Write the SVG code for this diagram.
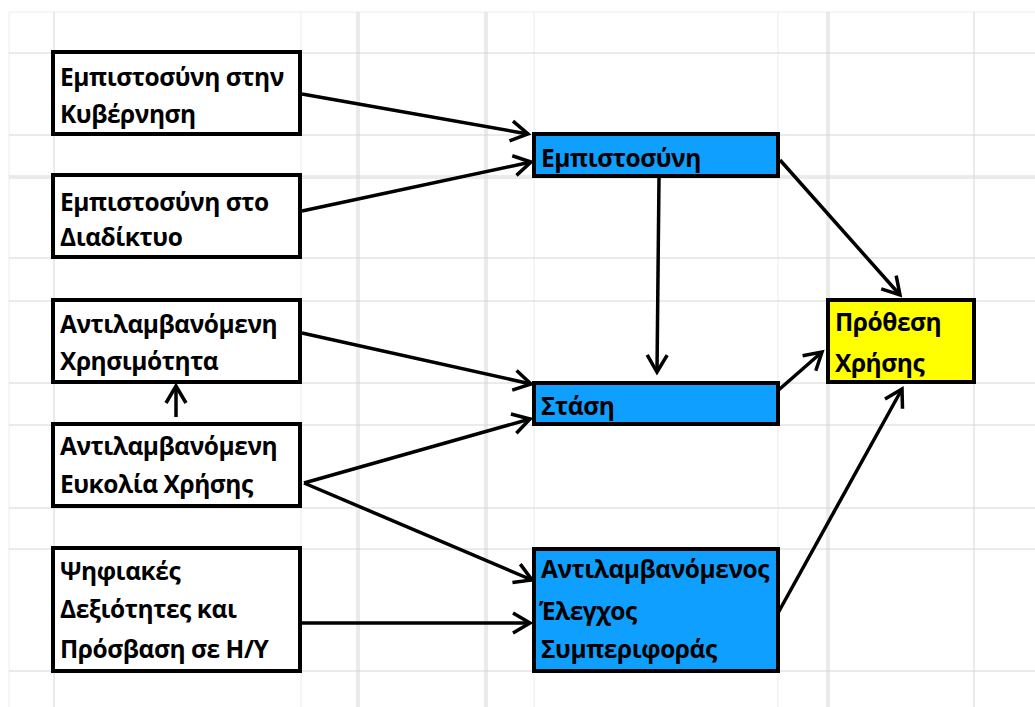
<svg xmlns="http://www.w3.org/2000/svg" width="1035" height="707" viewBox="0 0 1035 707">
<defs>
<style>
.g{stroke:#d6d6d6;stroke-width:1;fill:none}
.gf{stroke:#ececec;stroke-width:1;fill:none}
.box{stroke:#000;stroke-width:4}
.w{fill:#fff}
.b{fill:#0f9fff}
.y{fill:#ffff00}
.t{font-family:"Open Sans","Noto Sans","DejaVu Sans",sans-serif;font-weight:bold;font-size:24.5px;letter-spacing:-0.45px;fill:#000}
.c{stroke:#000;stroke-width:3.5;fill:none;marker-end:url(#ah)}
</style>
<marker id="ah" viewBox="-22 -14 26 28" markerWidth="26" markerHeight="28" refX="0" refY="0" orient="auto" markerUnits="userSpaceOnUse" overflow="visible">
<path d="M-17,-10 L0,0 L-17,10" fill="none" stroke="#000" stroke-width="3.5"/>
</marker>
</defs>
<rect width="1035" height="707" fill="#fff"/>
<g id="grid">
<path class="gf" d="M9,12H1035M9,12V707M301,12V707M534,12V707M778,12V707"/>
<path class="g" d="M9,53H1035M9,135H1035M9,258H1035M9,301H1035M9,383H1035M9,425H1035M9,508H1035M9,549H1035M9,671H1035M9,176H1035M9,178H1035"/>
<path class="g" d="M54,12V707M357,12V707M359,12V707M485,12V707M487,12V707M827,12V707M829,12V707M974,12V707"/>
</g>
<g id="connectors">
<line class="c" x1="302" y1="94" x2="528" y2="134"/>
<line class="c" x1="302" y1="211" x2="531" y2="162"/>
<line class="c" x1="659" y1="178" x2="657" y2="372"/>
<line class="c" x1="780" y1="160" x2="900" y2="295"/>
<line class="c" x1="302" y1="333" x2="531" y2="384"/>
<line class="c" x1="304" y1="483" x2="530" y2="419"/>
<line class="c" x1="304" y1="483" x2="532" y2="580"/>
<line class="c" x1="293" y1="623" x2="530" y2="623"/>
<line class="c" x1="774" y1="394" x2="822" y2="352"/>
<line class="c" x1="778" y1="613" x2="902" y2="389"/>
<line class="c" x1="176" y1="417" x2="176" y2="386"/>
</g>
<g id="n1">
<rect class="box w" x="53" y="52" width="247" height="82"/>
<text class="t" x="60" y="86">Εμπιστοσύνη στην</text>
<text class="t" x="60" y="123">Κυβέρνηση</text>
</g>
<g id="n2">
<rect class="box w" x="53" y="175" width="247" height="82"/>
<text class="t" x="60" y="211">Εμπιστοσύνη στο</text>
<text class="t" x="60" y="246">Διαδίκτυο</text>
</g>
<g id="n3">
<rect class="box w" x="53" y="300" width="247" height="82"/>
<text class="t" x="60" y="333">Αντιλαμβανόμενη</text>
<text class="t" x="60" y="370">Χρησιμότητα</text>
</g>
<g id="n4">
<rect class="box w" x="53" y="424" width="247" height="82"/>
<text class="t" x="60" y="455">Αντιλαμβανόμενη</text>
<text class="t" x="60" y="493">Ευκολία Χρήσης</text>
</g>
<g id="n5">
<rect class="box w" x="53" y="548" width="247" height="123"/>
<text class="t" x="60" y="580">Ψηφιακές</text>
<text class="t" x="60" y="618">Δεξιότητες και</text>
<text class="t" x="60" y="658">Πρόσβαση σε Η/Υ</text>
</g>
<g id="n6">
<rect class="box b" x="534" y="134" width="244" height="42"/>
<text class="t" x="541" y="167">Εμπιστοσύνη</text>
</g>
<g id="n7">
<rect class="box b" x="534" y="383" width="244" height="41"/>
<text class="t" x="541" y="415">Στάση</text>
</g>
<g id="n8">
<rect class="box b" x="534" y="549" width="244" height="122"/>
<text class="t" x="541" y="578">Αντιλαμβανόμενος</text>
<text class="t" x="539" y="620">Έλεγχος</text>
<text class="t" x="541" y="658">Συμπεριφοράς</text>
</g>
<g id="n9">
<rect class="box y" x="828" y="300" width="146" height="82"/>
<text class="t" x="835" y="331">Πρόθεση</text>
<text class="t" x="835" y="372">Χρήσης</text>
</g>
</svg>
